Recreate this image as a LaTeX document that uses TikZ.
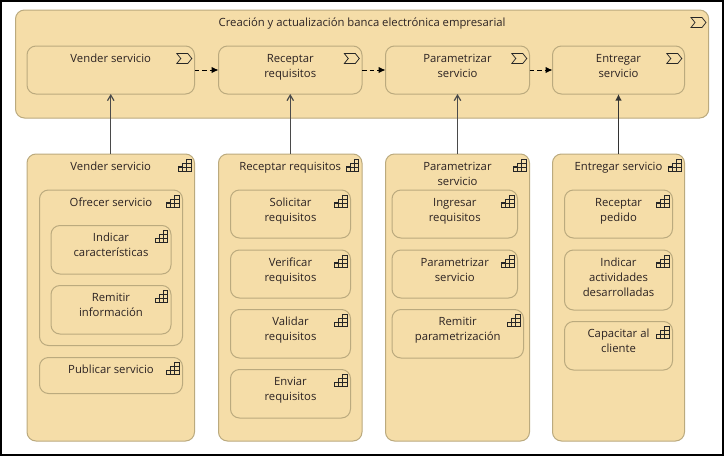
\documentclass[tikz,border=0pt]{standalone}
\usepackage{fontspec}
\setmainfont{Open Sans}
\usetikzlibrary{arrows.meta}
\definecolor{fillc}{HTML}{F5DDA8}
\definecolor{edgec}{HTML}{BBAA7E}
\definecolor{textc}{HTML}{2B2222}
\definecolor{arrc}{HTML}{4A4A4A}
\tikzset{
  elem/.style={draw=edgec,fill=fillc,line width=1pt,rounded corners=9pt,inner sep=0pt,outer sep=0pt},
  lbl/.style={font=\fontsize{11.3pt}{15pt}\selectfont,text=textc,align=center,inner sep=0pt,anchor=north},
  icon/.style={draw=black!85,line width=0.75pt,line join=miter},
  flow/.style={draw=black,line width=1pt,dash pattern=on 4.5pt off 3pt,-{Latex[length=7pt,width=6.5pt,black]}},
  realopen/.style={draw=arrc,line width=1.2pt,-{Straight Barb[length=5.5pt,width=6.5pt]}},
  realfill/.style={draw=black!80,line width=1.1pt,-{Latex[length=6.5pt,width=6.5pt]}},
  pics/chev/.style={code={\draw[icon] (-15,0) -- (-4,0) -- (0,5) -- (-4,10) -- (-15,10) -- (-11,5) -- cycle;}},
  pics/stair/.style={code={
    \draw[icon] (-12.5,12) -- (-12.5,7.5) -- (-8.5,7.5) -- (-8.5,4) -- (-4.5,4) -- (-4.5,0) -- (0,0) -- (0,12) -- cycle;
    \draw[icon] (-12.5,8) -- (0,8) (-8.5,4) -- (0,4) (-8.5,8) -- (-8.5,12) (-4.5,4) -- (-4.5,12);
  }},
}
% name, x1, y1, x2, y2, text, icon pic
\newcommand{\abox}[7]{%
  \path let \n1={(#2+#4)/2}, \n2={(#3+#5)/2}, \n3={#4-#2}, \n4={#5-#3} in
    node[elem,minimum width=\n3 pt,minimum height=\n4 pt] (#1) at (\n1,\n2) {};
  \node[lbl] (#1-t) at ([yshift=-5.5pt]#1.north) {\strut #6};
  \ifx#7c\pic at (#4-2.7,#3+7.5) {chev};\else\pic at (#4-3.5,#3+5) {stair};\fi
}
\usetikzlibrary{calc}
\begin{document}
\begin{tikzpicture}[x=1pt,y=-1pt]
\useasboundingbox (0,0) rectangle (724,456);
\draw[black,line width=2pt,fill=white] (1,1) rectangle (723,454.5);
% upper
\abox{main}{15.5}{10}{708.7}{118}{Creación y actualización banca electrónica empresarial}{c}
\abox{a1}{27}{46}{194.5}{94}{Vender servicio}{c}
\abox{a2}{218.5}{46}{362}{94}{Receptar\\requisitos}{c}
\abox{a3}{385.5}{46}{529.5}{94}{Parametrizar\\servicio}{c}
\abox{a4}{552.5}{46}{684.5}{94}{Entregar\\servicio}{c}
% column 1
\abox{b1}{27}{154}{194.5}{441}{Vender servicio}{s}
\abox{b1o}{39.5}{190}{182.5}{345.5}{Ofrecer servicio}{s}
\abox{b1i}{51}{225.5}{171}{274}{Indicar\\características}{s}
\abox{b1r}{51}{285.5}{171}{334}{Remitir\\información}{s}
\abox{b1p}{39.5}{357.5}{182.5}{393.5}{Publicar servicio}{s}
% column 2
\abox{b2}{218.5}{154}{362}{441}{Receptar requisitos}{s}
\abox{b2s}{230.5}{190}{350.5}{238}{Solicitar\\requisitos}{s}
\abox{b2v}{230.5}{250}{350.5}{298}{Verificar\\requisitos}{s}
\abox{b2a}{230.5}{309.5}{350.5}{358}{Validar\\requisitos}{s}
\abox{b2e}{230.5}{369.5}{350.5}{418}{Enviar\\requisitos}{s}
% column 3
\abox{b3}{385.5}{154}{529.5}{441}{Parametrizar\\servicio}{s}
\abox{b3i}{392}{190}{517.5}{238}{Ingresar\\requisitos}{s}
\abox{b3p}{392}{250}{517.5}{298}{Parametrizar\\servicio}{s}
\abox{b3r}{392}{309.5}{523.5}{358}{Remitir\\parametrización}{s}
% column 4
\abox{b4}{552.5}{154}{684.5}{441}{Entregar servicio}{s}
\abox{b4r}{564.5}{190}{672.5}{238}{Receptar\\pedido}{s}
\abox{b4i}{564.5}{250}{672.5}{310}{Indicar\\actividades\\desarrolladas}{s}
\abox{b4c}{564.5}{321.5}{672.5}{370}{Capacitar al\\cliente}{s}
% connectors
\draw[flow] (a1.east) -- (a2.west);
\draw[flow] (a2.east) -- (a3.west);
\draw[flow] (a3.east) -- (a4.west);
\draw[realopen] (b1.north) -- (a1.south);
\draw[realopen] (b2.north) -- (a2.south);
\draw[realopen] (b3.north) -- (a3.south);
\draw[realfill] (b4.north) -- (a4.south);
\end{tikzpicture}
\end{document}
